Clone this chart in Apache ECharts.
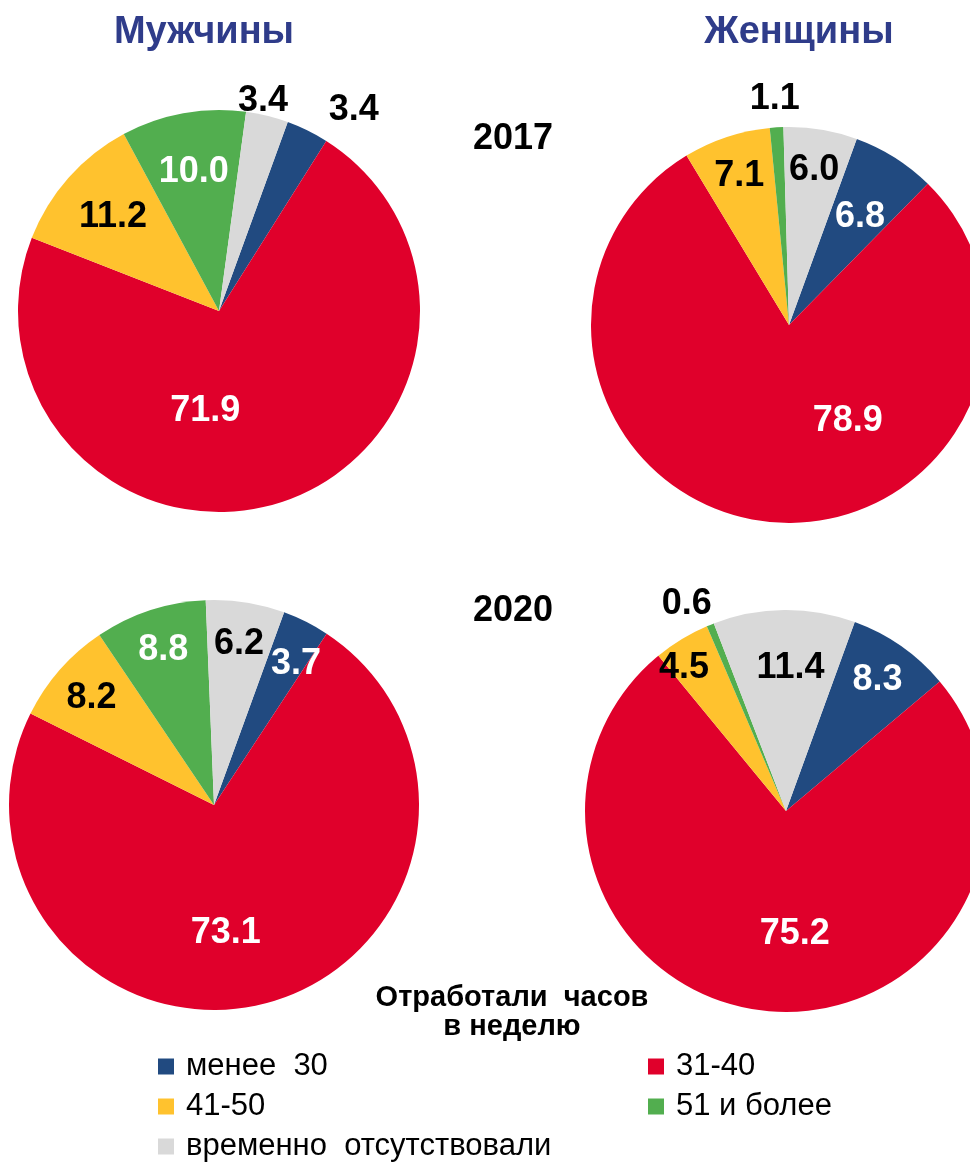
<!DOCTYPE html>
<html>
<head>
<meta charset="utf-8">
<script src="https://cdn.jsdelivr.net/npm/echarts@6/dist/echarts.min.js"></script>
<style>
html, body { margin: 0; padding: 0; background: #fff; }
#main { width: 970px; height: 1164px; }
</style>
</head>
<body>
<div id="main"></div>
<script>
var categories = ['менее  30', '31-40', '41-50', '51 и более', 'временно  отсутствовали'];
var colors = ['#214A80', '#E0002B', '#FFC22E', '#52AE4F', '#D9D9D9'];
var labelColors = ['#fff', '#fff', '#000', '#fff', '#000'];
var men2017 = [3.4, 71.9, 11.2, 10.0, 3.4];
var women2017 = [6.8, 78.9, 7.1, 1.1, 6.0];
var men2020 = [3.7, 73.1, 8.2, 8.8, 6.2];
var women2020 = [8.3, 75.2, 4.5, 0.6, 11.4];

var FONT = "'Liberation Sans', Arial, sans-serif";
var myChart = echarts.init(document.getElementById('main'));

// pies: values, center, radius, label ring position (fraction of r), label nudges by category
var pies = [
    { values: men2017, center: [219, 311], r: 201, big: 0.5, inner: 0.69,
      nudge: { 0: [34, 5], 1: [-46, 2], 4: [-11, 12] } },
    { values: women2017, center: [789, 325], r: 198, big: 0.6, inner: 0.78,
      nudge: { 0: [-13, 25], 1: [73, -25] } },
    { values: men2020, center: [214, 805], r: 205, big: 0.6, inner: 0.78,
      nudge: { 0: [9, 5], 1: [-21, 6] } },
    { values: women2020, center: [786, 811], r: 201, big: 0.6, inner: 0.78,
      nudge: { 1: [20, 0], 2: [-19, -6], 3: [-13, 5], 4: [6, 17] } }
];

function fmt(p) { return p.value.toFixed(1); }
var lblFont = { fontSize: 36, fontWeight: 'bold', fontFamily: FONT };

// transparent ring that only carries labels
function labelRing(p, r0, r1, showFn, colorFn) {
    return {
        type: 'pie',
        center: p.center,
        radius: [r0, r1],
        startAngle: 70,
        silent: true,
        avoidLabelOverlap: false,
        labelLine: { show: false },
        labelLayout: function (params) {
            var n = p.nudge[params.dataIndex];
            return n ? { dx: n[0], dy: n[1], hideOverlap: false } : { hideOverlap: false };
        },
        itemStyle: { color: 'rgba(0,0,0,0)' },
        data: p.values.map(function (v, i) {
            return {
                name: categories[i], value: v,
                label: echarts.util.extend({
                    show: showFn(v, i), position: 'inside', formatter: fmt, color: colorFn(i)
                }, lblFont)
            };
        })
    };
}

var mainSeries = [];
var labelSeries = [];
pies.forEach(function (p) {
    mainSeries.push({
        type: 'pie',
        center: p.center,
        radius: p.r,
        startAngle: 70,
        clockwise: true,
        silent: true,
        label: { show: false },
        labelLine: { show: false },
        data: p.values.map(function (v, i) {
            return { name: categories[i], value: v, itemStyle: { color: colors[i] } };
        })
    });
    // big slice
    labelSeries.push(labelRing(p, p.r * (2 * p.big - 1 > 0 ? 2 * p.big - 1 : 0), p.r,
        function (v, i) { return i === 1; },
        function () { return '#fff'; }));
    // small slices, inside
    labelSeries.push(labelRing(p, p.r * (2 * p.inner - 1), p.r,
        function (v, i) { return i !== 1 && v >= 3.5; },
        function (i) { return labelColors[i]; }));
    // tiny slices, outside
    labelSeries.push(labelRing(p, p.r, p.r + 50,
        function (v) { return v < 3.5; },
        function () { return '#000'; }));
});

// legend layout: one legend per entry
var legendPos = [[158, 1051], [648, 1051], [158, 1091], [648, 1091], [158, 1131]];
var legends = categories.map(function (c, i) {
    return {
        left: legendPos[i][0], top: legendPos[i][1],
        padding: 0,
        itemWidth: 16, itemHeight: 16,
        icon: 'rect',
        selectedMode: false,
        data: [c],
        textStyle: { fontSize: 31, color: '#000', fontFamily: FONT, padding: [0, 0, 0, 7] }
    };
});

option = {
    backgroundColor: '#fff',
    animation: false,
    title: [
        { text: 'Мужчины', left: 199, top: 9, textAlign: 'center',
          textStyle: { fontSize: 38, fontWeight: 'bold', color: '#2F3C8A', fontFamily: FONT } },
        { text: 'Женщины', left: 794, top: 9, textAlign: 'center',
          textStyle: { fontSize: 38, fontWeight: 'bold', color: '#2F3C8A', fontFamily: FONT } },
        { text: '2017', left: 508, top: 116, textAlign: 'center',
          textStyle: { fontSize: 36, fontWeight: 'bold', color: '#000', fontFamily: FONT } },
        { text: '2020', left: 508, top: 588, textAlign: 'center',
          textStyle: { fontSize: 36, fontWeight: 'bold', color: '#000', fontFamily: FONT } },
        { text: 'Отработали  часов\nв неделю', left: 507, top: 978, textAlign: 'center',
          textStyle: { fontSize: 29, fontWeight: 'bold', color: '#000', lineHeight: 29, fontFamily: FONT } }
    ],
    legend: legends,
    series: mainSeries.concat(labelSeries)
};

myChart.setOption(option);
</script>
</body>
</html>
